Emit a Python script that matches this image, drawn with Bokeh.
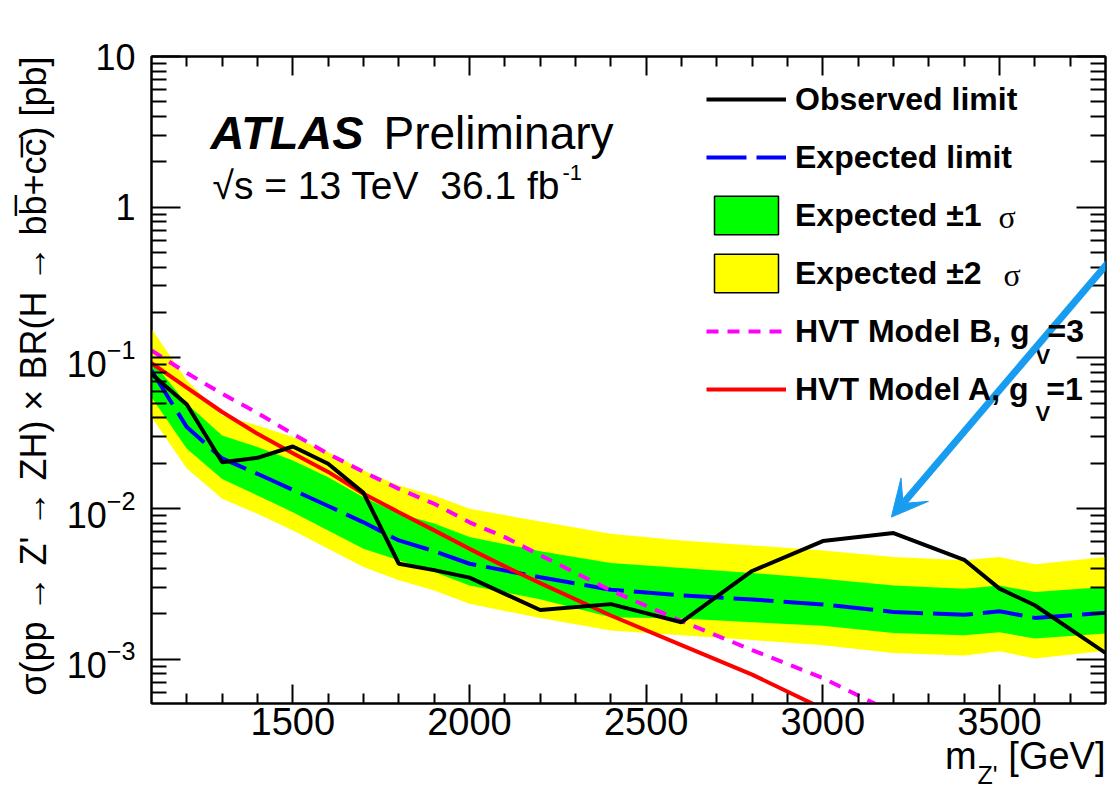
import math
from bokeh.plotting import figure
from bokeh.models import (Range1d, FixedTicker, LinearAxis, LogAxis, CustomJSTickFormatter,
                          LogTickFormatter, Legend, LegendItem, Label, Title, Arrow, VeeHead,
                          ColumnDataSource)
from bokeh.embed import file_html
from bokeh.resources import INLINE

# ---------------- data ----------------
mass = [1100, 1200, 1300, 1400, 1500, 1600, 1700, 1800, 1900, 2000,
        2200, 2400, 2600, 2800, 3000, 3200, 3400, 3500, 3600, 3800]
observed = [0.078, 0.049, 0.0203, 0.0217, 0.0258, 0.0198, 0.0127, 0.0043, 0.0039, 0.00348,
            0.00212, 0.00232, 0.00176, 0.00385, 0.00608, 0.00687, 0.00457, 0.00294, 0.00228, 0.0011]
expected = [0.0824, 0.0347, 0.0215, 0.0170, 0.0133, 0.0104, 0.0081, 0.00614, 0.00521, 0.0043,
            0.0035, 0.00289, 0.00265, 0.00249, 0.00231, 0.00206, 0.00197, 0.00208, 0.00188, 0.00203]
sig1_lo = [0.0548, 0.0249, 0.0157, 0.0122, 0.00946, 0.00716, 0.0054, 0.00453, 0.00379, 0.00309,
           0.0025, 0.0019, 0.00186, 0.00176, 0.00167, 0.00149, 0.00144, 0.00151, 0.00137, 0.00148]
sig1_hi = [0.096, 0.0495, 0.0305, 0.0256, 0.0208, 0.0161, 0.0119, 0.00927, 0.00796, 0.00646,
           0.0052, 0.00435, 0.00403, 0.00373, 0.00342, 0.00309, 0.00294, 0.00308, 0.00279, 0.00301]
sig2_lo = [0.0405, 0.0184, 0.0116, 0.00922, 0.00716, 0.0054, 0.00409, 0.00334, 0.00286, 0.00233,
           0.00188, 0.00155, 0.00144, 0.00134, 0.00124, 0.0011, 0.00106, 0.00113, 0.00101, 0.00114]
sig2_hi = [0.156, 0.0708, 0.0415, 0.0356, 0.0298, 0.0237, 0.0179, 0.0142, 0.0122, 0.00997,
           0.0082, 0.00681, 0.00614, 0.00569, 0.00527, 0.00476, 0.00453, 0.00476, 0.00426, 0.00476]

hvt_a_mass = [1100, 1200, 1300, 1400, 1500, 1600, 1700, 1800, 1900, 2000, 2100, 2200,
              2400, 2600, 2800, 3000]
hvt_a = [0.0923, 0.0634, 0.0437, 0.0313, 0.0233, 0.0175, 0.01253, 0.00946, 0.00716, 0.0054,
         0.00413, 0.0032, 0.00195, 0.00124, 0.00079, 0.00047]
hvt_b_mass = [1100, 1200, 1300, 1400, 1500, 1600, 1700, 1800, 1900, 2000, 2100, 2200,
              2400, 2600, 2800, 3000, 3200]
hvt_b = [0.112, 0.0793, 0.0578, 0.0430, 0.0313, 0.0231, 0.0175, 0.0135, 0.01076, 0.0081,
         0.00646, 0.0049, 0.00286, 0.00179, 0.00115, 0.00075, 0.00044]

x_major = [1500, 2000, 2500, 3000, 3500]
y_major = [1e-3, 1e-2, 1e-1, 1, 10]

X_MIN, X_MAX = 1100, 3800
Y_MIN, Y_MAX = 10 ** -3.294, 10

# annotation arrow (points at the excess near 3.2 TeV)
arrow_start = (3810, 0.436)
arrow_end = (3194, 0.00877)

FONT = "Liberation Sans"
NB = "\u00a0"
Y_TITLE = "\u03c3(pp \u2192 Z' \u2192 ZH) \u00d7 BR(H \u2192 bb\u0305+cc\u0305) [pb]"

x_minor = [m for m in range(1200, 3800, 100) if m not in x_major]
y_minor = [k * 10.0 ** e for e in range(-4, 1) for k in range(2, 10)
           if Y_MIN <= k * 10.0 ** e <= Y_MAX]

p = figure(width=1107, height=791, x_range=Range1d(X_MIN, X_MAX),
           y_range=Range1d(Y_MIN, Y_MAX), y_axis_type="log",
           output_backend="svg", toolbar_location=None,
           min_border_left=151, min_border_right=2, min_border_top=56, min_border_bottom=88)
p.grid.visible = False
p.outline_line_color = "black"
p.outline_line_width = 2
p.background_fill_color = "white"
p.border_fill_color = "white"

xt = FixedTicker(ticks=x_major, minor_ticks=x_minor)
yt = FixedTicker(ticks=y_major, minor_ticks=y_minor)

if "min_exponent" in LogTickFormatter.properties():
    yfmt = LogTickFormatter(min_exponent=1)
else:
    yfmt = CustomJSTickFormatter(code="""
const e = Math.round(Math.log10(tick));
if (e == 1) return "10";
if (e == 0) return "1";
const sup = {"-": "\u207b", "0": "\u2070", "1": "\u00b9", "2": "\u00b2", "3": "\u00b3"};
return "10" + String(e).split("").map(c => sup[c]).join("");
""")
blank_fmt = CustomJSTickFormatter(code='return "";')

def style_axis(ax, major_in, minor_in, size=None):
    ax.axis_line_width = 2
    ax.axis_line_color = "black"
    ax.major_tick_line_width = 2
    ax.minor_tick_line_width = 2
    ax.major_tick_line_color = "black"
    ax.minor_tick_line_color = "black"
    ax.major_tick_in = major_in
    ax.major_tick_out = 0
    ax.minor_tick_in = minor_in
    ax.minor_tick_out = 0
    if size:
        ax.major_label_text_font = FONT
        ax.major_label_text_font_size = size
        ax.major_label_text_color = "black"
    else:
        ax.formatter = blank_fmt
        ax.major_label_standoff = 0

xa = p.xaxis[0]
xa.ticker = xt
style_axis(xa, 19, 10, "38px")
xa.major_label_standoff = 4

ya = p.yaxis[0]
ya.ticker = yt
ya.formatter = yfmt
style_axis(ya, 29, 15, "36px")
ya.major_label_standoff = 16
ya.major_label_overrides = {10: "10"}

top = LinearAxis(ticker=xt)
style_axis(top, 19, 10)
p.add_layout(top, "above")
right = LogAxis(ticker=yt)
style_axis(right, 29, 15)
p.add_layout(right, "right")

def title(text, side, size, align, vertical_align, standoff, offset=0):
    p.add_layout(Title(text=text, align=align, vertical_align=vertical_align,
                       standoff=standoff, offset=offset, text_font=FONT,
                       text_font_size=size, text_font_style="normal",
                       text_color="black"), side)

# axis titles (right / top aligned as in ROOT)
title(Y_TITLE, "left", "36px", "right", "bottom", 20, 0)
title("m" + NB * 3 + "[GeV]", "below", "38px", "right", "bottom", -9, 0)
title("Z'", "below", "25px", "left", "bottom", -27, 826)

# ---------------- bands and curves ----------------
band2 = p.varea(x=mass, y1=sig2_lo, y2=sig2_hi, fill_color="#ffff00")
band1 = p.varea(x=mass, y1=sig1_lo, y2=sig1_hi, fill_color="#00ff00")
exp_r = p.line(mass, expected, line_color="#0000ff", line_width=4, line_dash="40 10")
b_r = p.line(hvt_b_mass, hvt_b, line_color="#ff00ff", line_width=4, line_dash="12 9")
a_r = p.line(hvt_a_mass, hvt_a, line_color="#ff0000", line_width=4)
obs_r = p.line(mass, observed, line_color="black", line_width=4)

# legend-only box samples (no drawable data)
nan = float("nan")
g_box = p.quad(source=ColumnDataSource(dict(l=[nan], r=[nan], t=[nan], b=[nan])),
               left="l", right="r", top="t", bottom="b",
               fill_color="#00ff00", line_color="black", line_width=1.5)
y_box = p.quad(source=ColumnDataSource(dict(l=[nan], r=[nan], t=[nan], b=[nan])),
               left="l", right="r", top="t", bottom="b",
               fill_color="#ffff00", line_color="black", line_width=1.5)

legend = Legend(items=[
    LegendItem(label="Observed limit", renderers=[obs_r]),
    LegendItem(label="Expected limit", renderers=[exp_r]),
    LegendItem(label="Expected \u00b11", renderers=[g_box]),
    LegendItem(label="Expected \u00b12", renderers=[y_box]),
    LegendItem(label="HVT Model B, g" + NB * 2 + "=3", renderers=[b_r]),
    LegendItem(label="HVT Model A, g" + NB * 2 + "=1", renderers=[a_r]),
], location=(555, 290), padding=0, margin=0, spacing=10, glyph_width=80, glyph_height=48,
    label_height=48, label_standoff=9, border_line_color=None, background_fill_alpha=0,
    label_text_font=FONT, label_text_font_style="bold", label_text_font_size="32px",
    label_text_color="black")
p.add_layout(legend)

def lab(x, y, text, size, style="normal", font=FONT, align="left"):
    p.add_layout(Label(x=x, y=y, x_units="screen", y_units="screen", text=text,
                       text_font=font, text_font_size=size, text_font_style=style,
                       text_color="black", text_align=align, text_baseline="alphabetic"))

lab(59, 571, "ATLAS", "47px", "bold italic")
lab(232, 571, "Preliminary", "46px")
lab(61, 518, "\u221as = 13 TeV" + NB * 2 + "36.1 fb", "39px")
lab(411, 531, "-1", "22px")
lab(847, 487, "\u03c3", "32px", font="Liberation Serif")
lab(852, 429, "\u03c3", "32px", font="Liberation Serif")
lab(884, 347, "V", "22px", "bold")
lab(884, 290, "V", "22px", "bold")

p.add_layout(Arrow(end=VeeHead(size=36, fill_color="#179cf0", line_color="#179cf0"),
                   x_start=arrow_start[0], y_start=arrow_start[1],
                   x_end=arrow_end[0], y_end=arrow_end[1],
                   line_color="#179cf0", line_width=7))

open("out.html", "w").write(file_html(p, INLINE))
